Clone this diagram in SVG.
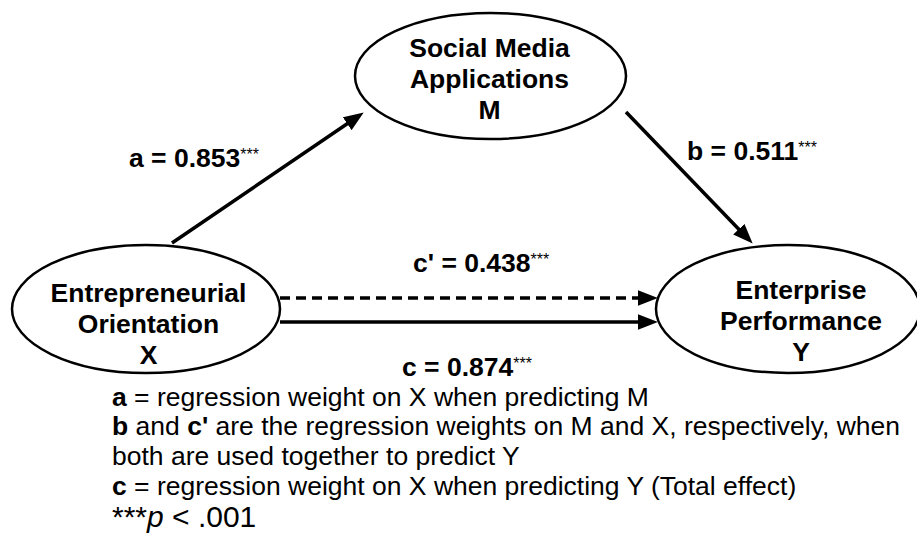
<svg xmlns="http://www.w3.org/2000/svg" width="917" height="535" viewBox="0 0 917 535">
<style>
.node ellipse{fill:#fff;stroke:#000;stroke-width:2.5}
.nt{font-family:"Liberation Sans",Arial,sans-serif;font-weight:bold;font-size:26.5px;text-anchor:middle;fill:#000}
.lbl{font-family:"Liberation Sans",Arial,sans-serif;font-weight:bold;font-size:26.5px;fill:#000}
.sup{font-weight:normal;font-size:16px}
.note{font-family:"Liberation Sans",Arial,sans-serif;font-size:26.5px;fill:#000}
.b{font-weight:bold}
.conn line{stroke:#000;stroke-width:3.5;fill:none}
</style>
<defs>
<marker id="ah" markerUnits="userSpaceOnUse" markerWidth="20" markerHeight="16" viewBox="0 0 18 14" refX="10" refY="7" orient="auto">
<path d="M0,0 L18,7 L0,14 Z" fill="#000"/>
</marker>
</defs>
<rect width="917" height="535" fill="#fff"/>
<g id="connectors" class="conn">
<line x1="172" y1="243" x2="356.4" y2="117.5" marker-end="url(#ah)"/>
<line x1="626" y1="112" x2="746.5" y2="237.2" marker-end="url(#ah)"/>
<line x1="280" y1="298" x2="649" y2="298" stroke-dasharray="10 6" marker-end="url(#ah)"/>
<line x1="280" y1="322" x2="649" y2="322" marker-end="url(#ah)"/>
</g>
<g id="node-M" class="node">
<ellipse cx="490.5" cy="76" rx="135.5" ry="63"/>
<text class="nt" x="489.5" y="56.5">Social Media</text>
<text class="nt" x="489.5" y="87.5">Applications</text>
<text class="nt" x="489.5" y="118.5">M</text>
</g>
<g id="node-X" class="node">
<ellipse cx="146" cy="309" rx="134" ry="64"/>
<text class="nt" x="148.5" y="302">Entrepreneurial</text>
<text class="nt" x="148.5" y="333">Orientation</text>
<text class="nt" x="148.5" y="364">X</text>
</g>
<g id="node-Y" class="node">
<ellipse cx="788" cy="309" rx="132" ry="64"/>
<text class="nt" x="801" y="299">Enterprise</text>
<text class="nt" x="801" y="330">Performance</text>
<text class="nt" x="801" y="361">Y</text>
</g>
<g id="labels">
<text class="lbl" x="129" y="167">a = 0.853<tspan class="sup" dy="-7">***</tspan></text>
<text class="lbl" x="687" y="160">b = 0.511<tspan class="sup" dy="-7">***</tspan></text>
<text class="lbl" x="413" y="272">c' = 0.438<tspan class="sup" dy="-7">***</tspan></text>
<text class="lbl" x="402" y="375.5">c = 0.874<tspan class="sup" dy="-7">***</tspan></text>
</g>
<g id="notes">
<text class="note" x="112" y="405.5"><tspan class="b">a</tspan> = regression weight on X when predicting M</text>
<text class="note" x="112" y="435"><tspan class="b">b</tspan> and <tspan class="b">c'</tspan> are the regression weights on M and X, respectively, when</text>
<text class="note" x="112" y="465">both are used together to predict Y</text>
<text class="note" x="112" y="495"><tspan class="b">c</tspan> = regression weight on X when predicting Y (Total effect)</text>
<text class="note" x="112" y="527" style="font-size:30px">***<tspan font-style="italic">p</tspan> &lt; .001</text>
</g>
</svg>
